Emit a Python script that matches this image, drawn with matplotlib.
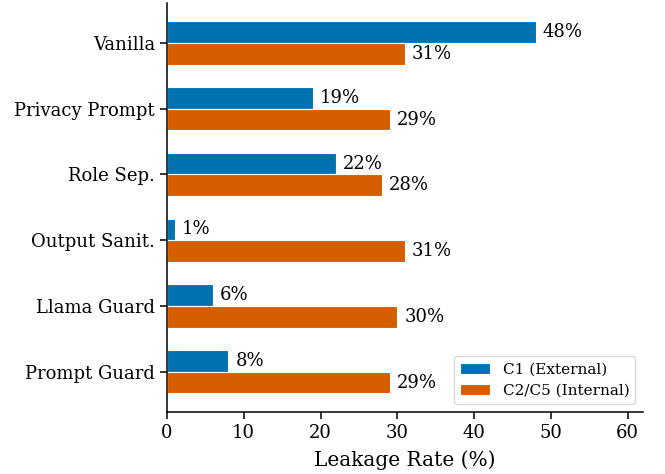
import matplotlib
matplotlib.use("Agg")
import matplotlib.pyplot as plt
import numpy as np

plt.rcParams['font.family'] = ['DejaVu Serif']

categories = ["Vanilla", "Privacy Prompt", "Role Sep.", "Output Sanit.", "Llama Guard", "Prompt Guard"]
c1_external = [48, 19, 22, 1, 6, 8]
c2c5_internal = [31, 29, 28, 31, 30, 29]
series_labels = ["C1 (External)", "C2/C5 (Internal)"]
colors = ["#0072B2", "#D55E00"]

fig = plt.figure(figsize=(6.65, 4.74), dpi=100)
ax = fig.add_axes([0.251, 0.131, 0.716, 0.863])

y = np.arange(len(categories))
h = 0.33
b1 = ax.barh(y - h/2, c1_external, height=h, color=colors[0], edgecolor="white", linewidth=0.8, label=series_labels[0])
b2 = ax.barh(y + h/2, c2c5_internal, height=h, color=colors[1], edgecolor="white", linewidth=0.8, label=series_labels[1])

for bars, vals in ((b1, c1_external), (b2, c2c5_internal)):
    for bar, v in zip(bars, vals):
        ax.annotate(f"{v}%", (v, bar.get_y() + bar.get_height()/2), xytext=(5, 0),
                    textcoords="offset points", va="center", ha="left", fontsize=13)

ax.set_yticks(y)
ax.set_yticklabels(categories, fontsize=13)
ax.set_ylim(len(categories) - 0.39, -0.61)
ax.set_xlim(0, 62)
ax.set_xticks([0, 10, 20, 30, 40, 50, 60])
ax.tick_params(axis='x', labelsize=13)
ax.tick_params(axis='both', length=5, width=1.1, pad=3.5)
for s in ('left', 'bottom'):
    ax.spines[s].set_linewidth(1.1)
ax.set_xlabel("Leakage Rate (%)", fontsize=14.5, labelpad=6)
ax.spines['top'].set_visible(False)
ax.spines['right'].set_visible(False)
ax.legend(loc="lower right", fontsize=11, frameon=True)

fig.savefig("out.png", dpi=100)
